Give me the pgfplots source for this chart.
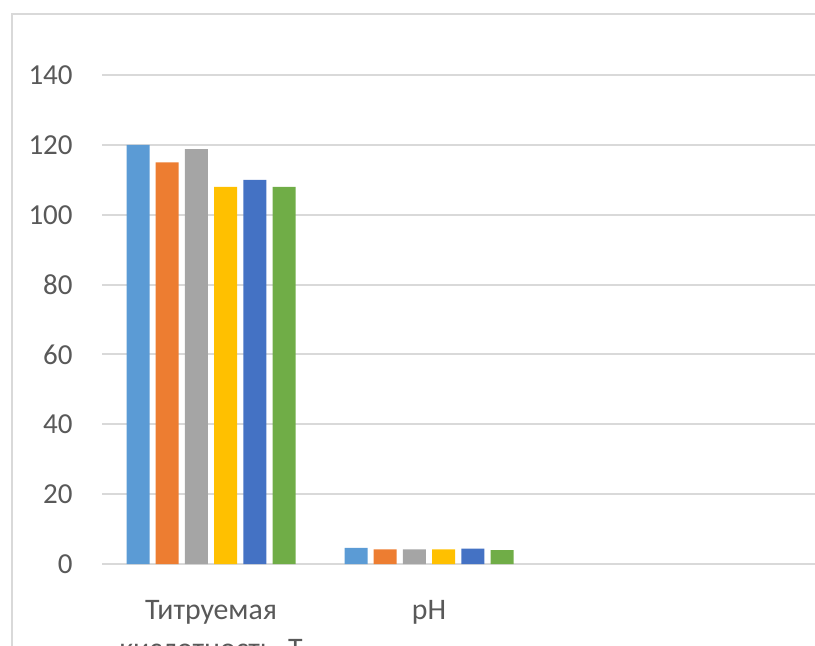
\documentclass[border=0pt]{standalone}
\usepackage{fontspec}
\setmainfont{Carlito}
\usepackage{pgfplots}
\pgfplotsset{compat=1.18}
\definecolor{c1}{HTML}{5B9BD5}
\definecolor{c2}{HTML}{ED7D31}
\definecolor{c3}{HTML}{A5A5A5}
\definecolor{c4}{HTML}{FFC000}
\definecolor{c5}{HTML}{4472C4}
\definecolor{c6}{HTML}{70AD47}
\definecolor{gridc}{HTML}{D9D9D9}
\definecolor{txt}{HTML}{595959}
\begin{document}
\begin{tikzpicture}
\begin{axis}[
 at={(51pt,40.5pt)}, anchor=south west,
 scale only axis, width=436pt, height=244.5pt,
 xmin=-0.5, xmax=3.5, ymin=0, ymax=140,
 ybar=3.1pt, bar width=11.5pt,
 xtick={0,1}, xticklabels={{Титруемая\\[1.8pt]кислотность, Т},{pH}},
 ytick={0,20,...,140},
 ymajorgrids, grid style={gridc, line width=1pt},
 axis line style={draw=none},
 major tick length=0pt,
 tick label style={font=\fontsize{14.5pt}{17.5pt}\selectfont, text=txt},
 xticklabel style={font=\fontsize{14.9pt}{17.5pt}\selectfont, align=center, anchor=north, inner sep=0pt, yshift=-18pt},
 yticklabel style={anchor=east, inner sep=0pt, xshift=-14.5pt},
 /pgf/number format/assume math mode=true,
]
 \addplot[fill=c1, draw=none] coordinates {(0,120) (1,4.6)};
 \addplot[fill=c2, draw=none] coordinates {(0,115) (1,4.2)};
 \addplot[fill=c3, draw=none] coordinates {(0,118.8) (1,4.2)};
 \addplot[fill=c4, draw=none] coordinates {(0,108) (1,4.2)};
 \addplot[fill=c5, draw=none] coordinates {(0,110) (1,4.4)};
 \addplot[fill=c6, draw=none] coordinates {(0,108) (1,4.0)};
\end{axis}
\draw[gridc, line width=1pt] (5.75pt,-10pt) -- (5.75pt,315.75pt) -- (420pt,315.75pt);
\pgfresetboundingbox
\path[use as bounding box] (0,0) rectangle (407.5pt,322.5pt);
\end{tikzpicture}
\end{document}
